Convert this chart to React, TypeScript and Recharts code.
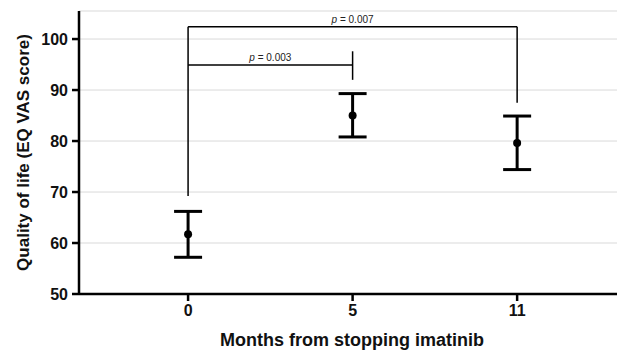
import { ComposedChart, Scatter, ErrorBar, XAxis, YAxis, CartesianGrid, ReferenceLine } from 'recharts'

const months = ['0', '5', '11']
const meanScore = [61.7, 85.0, 79.6]
const lowerScore = [57.2, 80.8, 74.4]
const upperScore = [66.2, 89.3, 84.9]
const yTicks = [50, 60, 70, 80, 90, 100]

// significance brackets: [x1, y1, x2, y2] in data units (x = month index)
const outerBracket = [
  [0, 69.2, 0, 102.4],
  [0, 102.4, 2, 102.4],
  [2, 102.4, 2, 87.5],
]
const innerBracket = [
  [0, 94.9, 1, 94.9],
  [1, 92.0, 1, 97.6],
]
const pValues = ['0.007', '0.003']

const data = months.map((m, i) => ({
  pos: i,
  mean: meanScore[i],
  err: [meanScore[i] - lowerScore[i], upperScore[i] - meanScore[i]],
}))

const FONT = '"Liberation Sans", Arial, sans-serif'

const pLabel = (text: string) => (props: any) => {
  const vb = props.viewBox
  return (
    <text
      x={vb.x + vb.width / 2}
      y={vb.y - 4}
      textAnchor="middle"
      fontFamily={FONT}
      fontSize={10}
      fill="#222"
    >
      <tspan fontStyle="italic">p</tspan> = {text}
    </text>
  )
}

const Dot = (props: any) => <circle cx={props.cx} cy={props.cy} r={4} fill="#000" />

export default function App() {
  return (
    <div style={{ position: 'absolute', left: 0, top: 0, background: '#fff' }}>
      <ComposedChart width={617} height={352} data={data} margin={{ top: 11, right: 0, bottom: 0, left: 0 }}>
        <CartesianGrid vertical={false} stroke="#d9d9d9" strokeWidth={1} />
        <XAxis
          dataKey="pos"
          type="number"
          domain={[-0.663, 2.607]}
          ticks={[0, 1, 2]}
          allowDataOverflow
          tickFormatter={(v: number) => months[v]}
          height={58}
          stroke="#000"
          strokeWidth={2.5}
          tickSize={7}
          tickMargin={4}
          tick={{ fill: '#111', fontSize: 16, fontWeight: 'bold', fontFamily: FONT }}
          label={{
            value: 'Months from stopping imatinib',
            position: 'insideBottom',
            offset: 6,
            dx: 4,
            fill: '#111',
            fontSize: 18,
            fontWeight: 'bold',
            fontFamily: FONT,
          }}
        />
        <YAxis
          dataKey="mean"
          type="number"
          domain={[50, 105.5]}
          ticks={yTicks}
          allowDataOverflow
          width={79}
          stroke="#000"
          strokeWidth={2.5}
          tickSize={7}
          tickMargin={4}
          tick={{ fill: '#111', fontSize: 16, fontWeight: 'bold', fontFamily: FONT }}
          label={{
            value: 'Quality of life (EQ VAS score)',
            angle: -90,
            position: 'center',
            dx: -17,
            fill: '#111',
            fontSize: 17,
            fontWeight: 'bold',
            fontFamily: FONT,
          }}
        />
        {outerBracket.map((s, i) => (
          <ReferenceLine
            key={`o${i}`}
            segment={[{ x: s[0], y: s[1] }, { x: s[2], y: s[3] }]}
            stroke="#000"
            strokeWidth={1.5}
            ifOverflow="visible"
            label={i === 1 ? { content: pLabel(pValues[0]) } : undefined}
          />
        ))}
        {innerBracket.map((s, i) => (
          <ReferenceLine
            key={`i${i}`}
            segment={[{ x: s[0], y: s[1] }, { x: s[2], y: s[3] }]}
            stroke="#000"
            strokeWidth={1.5}
            ifOverflow="visible"
            label={i === 0 ? { content: pLabel(pValues[1]) } : undefined}
          />
        ))}
        <Scatter dataKey="mean" shape={Dot} isAnimationActive={false}>
          <ErrorBar dataKey="err" direction="y" width={14} stroke="#000" strokeWidth={3} />
        </Scatter>
      </ComposedChart>
    </div>
  )
}
